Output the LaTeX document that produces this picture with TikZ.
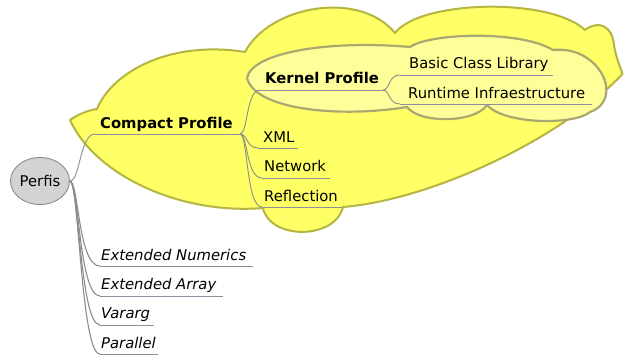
\documentclass[tikz,border=0pt]{standalone}
\usepackage{fontspec}
\usetikzlibrary{shapes.geometric}
\setmainfont{DejaVu Sans}
\definecolor{outerfill}{HTML}{FFFF66}
\definecolor{outerline}{HTML}{B5B542}
\definecolor{innerfill}{HTML}{FFFF99}
\definecolor{innerline}{HTML}{A8A870}
\definecolor{linegray}{HTML}{8C8C8C}
\definecolor{ulinecol}{HTML}{8E8E9E}
\definecolor{perfisfill}{HTML}{D3D3D3}
\definecolor{perfisline}{HTML}{8A8A8A}
\begin{document}
\begin{tikzpicture}[x=1pt,y=-1pt,
  lbl/.style={anchor=base west,inner sep=0pt,font=\fontsize{14.8}{16}\selectfont},
  boldlbl/.style={anchor=base west,inner sep=0pt,font=\fontsize{14.8}{16}\selectfont\bfseries},
  itallbl/.style={anchor=base west,inner sep=0pt,font=\fontsize{14.8}{16}\selectfont\itshape},
  conn/.style={draw=linegray,line width=0.9pt},
  uline/.style={draw=ulinecol,line width=1pt}]
\useasboundingbox (0,0) rectangle (624,356);
% outer cloud (Compact Profile)
\path[fill=outerfill,draw=outerline,line width=2pt,line join=round]
  (70,120) .. controls (80,113) and (90,110) .. (97,109)
  .. controls (112,72) and (170,40) .. (245,52)
  .. controls (270,5) and (360,-10) .. (395,33)
  .. controls (420,0) and (550,-3) .. (585,30)
  .. controls (598,20) and (612,25) .. (614,45)
  .. controls (616,58) and (620,66) .. (622.5,74)
  .. controls (560,140) and (430,200) .. (343,207)
  .. controls (335,240) and (270,240) .. (263,208)
  .. controls (180,215) and (95,175) .. (70,120) -- cycle;
% inner cloud (Kernel Profile)
\path[fill=innerfill,draw=innerline,line width=2.2pt,line join=round]
  (247,78) .. controls (252,52) and (330,40) .. (410,47)
  .. controls (430,33) and (520,30) .. (553,50)
  .. controls (600,45) and (625,100) .. (590,112)
  .. controls (575,125) and (505,125) .. (487,105)
  .. controls (475,123) and (420,124) .. (407,107)
  .. controls (340,118) and (255,110) .. (247,78) -- cycle;

% root
\node[ellipse,draw=perfisline,fill=perfisfill,line width=0.9pt,minimum width=59pt,minimum height=47pt,inner sep=0pt,
  font=\fontsize{14.8}{16}\selectfont] (perfis) at (40,181) {Perfis};

% labels
\node[boldlbl] (compact) at (100,128) {Compact Profile};
\node[boldlbl] (kernel) at (265,83) {Kernel Profile};
\node[lbl] (basic) at (409,68) {Basic Class Library};
\node[lbl] (runtime) at (408,98) {Runtime Infraestructure};
\node[lbl] (xml) at (263,142) {XML};
\node[lbl] (network) at (264,171) {Network};
\node[lbl] (reflection) at (264,201) {Reflection};
\node[itallbl] (extnum) at (101,260) {Extended Numerics};
\node[itallbl] (extarr) at (101,289) {Extended Array};
\node[itallbl] (vararg) at (101,318) {Vararg};
\node[itallbl] (parallel) at (101,348) {Parallel};

% junction coordinates
\coordinate (perfisR) at (70,181);
\coordinate (compactS) at (95,134);
\coordinate (compactE) at (240,134);
\coordinate (kernelS) at (260,90);
\coordinate (kernelE) at (383,90);

% Perfis -> Compact
\draw[conn] (perfisR) .. controls (80,181) and (80,134) .. (compactS);
\draw[uline] (compactS) -- (compactE);
% Perfis -> extensions
\draw[conn,line width=1.1pt] (perfisR) .. controls (79,183) and (78,266) .. (100,266) coordinate (extnumS);
\draw[uline] (extnumS) -- (253,266);
\draw[conn,line width=1.1pt] (perfisR) .. controls (79,183) and (79,296) .. (100,296) coordinate (extarrS);
\draw[uline] (extarrS) -- (223,296);
\draw[conn,line width=1.1pt] (perfisR) .. controls (79,183) and (80,325) .. (100,325) coordinate (varargS);
\draw[uline] (varargS) -- (154,325);
\draw[conn,line width=1.1pt] (perfisR) .. controls (79,183) and (81,354) .. (100,354) coordinate (parallelS);
\draw[uline] (parallelS) -- (158,354);

% Compact -> children
\draw[conn] (compactE) .. controls (248,134) and (246,90) .. (kernelS);
\draw[uline] (kernelS) -- (kernelE);
\draw[conn] (compactE) .. controls (248,134) and (246,148) .. (258,148) coordinate (xmlS);
\draw[uline] (xmlS) -- (298,148);
\draw[conn] (compactE) .. controls (248,134) and (246,178) .. (262,178) coordinate (networkS);
\draw[uline] (networkS) -- (330,178);
\draw[conn] (compactE) .. controls (248,134) and (246,207) .. (262,207) coordinate (reflS);
\draw[uline] (reflS) -- (342,207);

% Kernel -> children
\draw[conn] (kernelE) .. controls (390,90) and (388,75) .. (400,75) coordinate (basicS);
\draw[uline] (basicS) -- (553,75);
\draw[conn] (kernelE) .. controls (390,90) and (388,104) .. (400,104) coordinate (runtimeS);
\draw[uline] (runtimeS) -- (592,104);
\end{tikzpicture}
\end{document}
